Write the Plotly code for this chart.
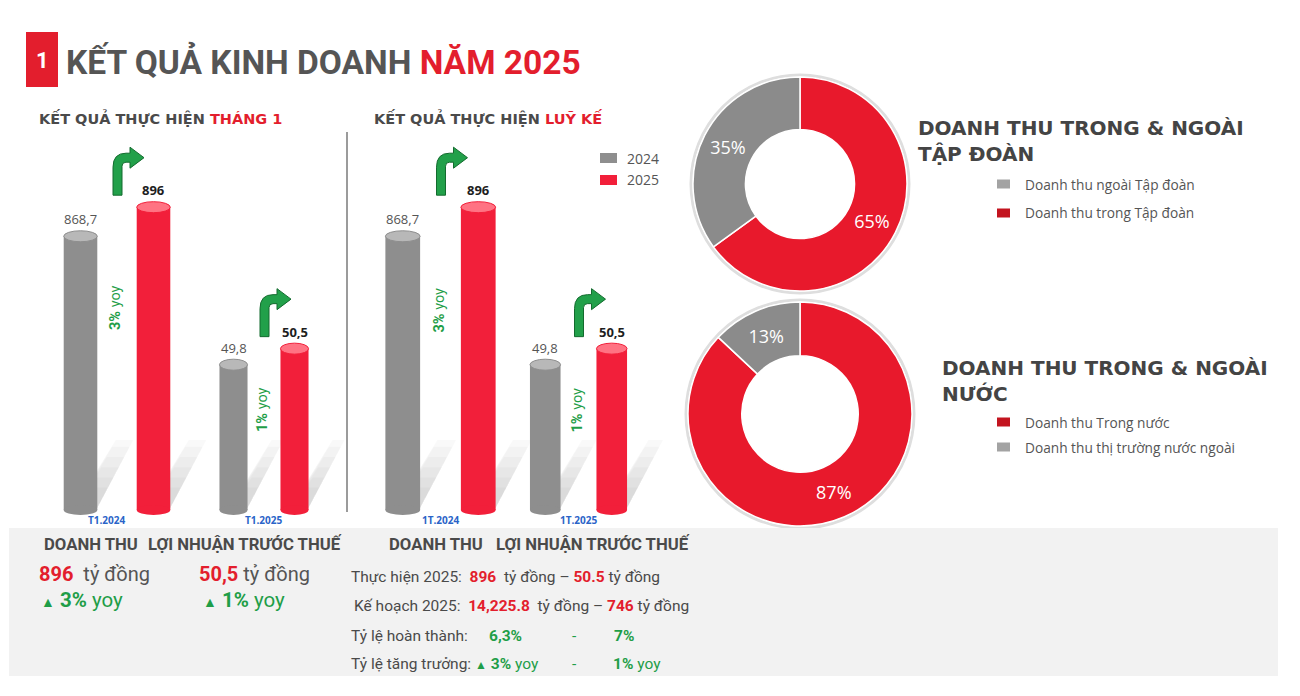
import plotly.graph_objects as go

W, H = 1300, 696

# ---------------- data ----------------
YEARS = ["2024", "2025"]
REVENUE_MONTH = [868.7, 896.0]      # tỷ đồng – tháng 1
PROFIT_MONTH = [49.8, 50.5]         # tỷ đồng – tháng 1
REVENUE_YTD = [868.7, 896.0]        # tỷ đồng – luỹ kế
PROFIT_YTD = [49.8, 50.5]           # tỷ đồng – luỹ kế
MONTH_CAT_LABELS = ["T1.2024", "T1.2025"]
YTD_CAT_LABELS = ["1T.2024", "1T.2025"]
PLAN_REVENUE_2025 = 14225.8
PLAN_PROFIT_2025 = 746

GROUP_LABELS = ["Doanh thu ngoài Tập đoàn", "Doanh thu trong Tập đoàn"]
GROUP_SHARES = [35, 65]
MARKET_LABELS = ["Doanh thu Trong nước", "Doanh thu thị trường nước ngoài"]
MARKET_SHARES = [87, 13]

# ---------------- style ----------------
REV_RANGE = [611.6, 968.5]
PROFIT_RANGE = [43.46, 60.04]
BAR_COLORS = {"2024": "#8e8e8e", "2025": "#f21f3a"}
CAP_COLORS = {"2024": "#b8b8b8", "2025": "#ff7383"}
PIE_RED = "#e8192c"
PIE_GRAY = "#8b8b8b"
LEG_RED = "#c3141f"
LEG_GRAY = "#a3a3a3"
RED = "#e31e2d"
GREEN = "#1f9e48"
DARK = "#4a4a4a"
HEAD = "Roboto"
WIDE = "DejaVu Sans"
BODY = "Open Sans"
Y_BOT, Y_TOP = 510, 130
BAR_W = 0.46


def px(x):
    return x / W


def py(y):
    return 1 - y / H


def vn(v):
    if float(v).is_integer():
        return f"{int(v)}"
    return f"{v:.1f}".replace(".", ",")


fig = go.Figure()
shapes = []
ann = []


def txt(x, y, text, size, color=DARK, xanchor="left", yanchor="middle",
        family=HEAD, xref="paper", yref="paper", **kw):
    ann.append(dict(x=x, y=y, xref=xref, yref=yref, text=text, showarrow=False,
                    xanchor=xanchor, yanchor=yanchor,
                    font=dict(size=size, color=color, family=family), **kw))


def arrow(x0, y0):
    path = f"M {px(x0)},{py(y0)} L {px(x0)},{py(y0 - 28)} "
    path += f"Q {px(x0)},{py(y0 - 42)} {px(x0 + 13)},{py(y0 - 42)} "
    for (a, b) in [(17, 42), (17, 48), (31, 37.5), (17, 27), (17, 33), (13, 33)]:
        path += f"L {px(x0 + a)},{py(y0 - b)} "
    path += f"Q {px(x0 + 9)},{py(y0 - 33)} {px(x0 + 9)},{py(y0 - 29)} "
    path += f"L {px(x0 + 9)},{py(y0)} Z"
    shapes.append(dict(type="path", xref="paper", yref="paper", path=path,
                       fillcolor="#22a04a", line=dict(color="#136b2e", width=1),
                       layer="above"))


panels = [
    (REVENUE_MONTH, REV_RANGE, (44, 190), MONTH_CAT_LABELS[0], -10, 308),
    (PROFIT_MONTH, PROFIT_RANGE, (203, 325), MONTH_CAT_LABELS[1], 0, 410),
    (REVENUE_YTD, REV_RANGE, (365, 516), YTD_CAT_LABELS[0], 0, 310),
    (PROFIT_YTD, PROFIT_RANGE, (512, 645), YTD_CAT_LABELS[1], 0, 410),
]

layout_axes = {}
for k, (vals, rng, dom, cat, cshift, yoy_y) in enumerate(panels, start=1):
    xa = "x" if k == 1 else f"x{k}"
    ya = "y" if k == 1 else f"y{k}"
    layout_axes["xaxis" if k == 1 else f"xaxis{k}"] = dict(
        domain=[px(dom[0]), px(dom[1])], range=[-0.5, 1.5], visible=False,
        anchor=ya, fixedrange=True)
    layout_axes["yaxis" if k == 1 else f"yaxis{k}"] = dict(
        domain=[py(Y_BOT), py(Y_TOP)], range=rng, visible=False,
        anchor=xa, fixedrange=True)
    ppu = (Y_BOT - Y_TOP) / (rng[1] - rng[0])
    xppu = (dom[1] - dom[0]) / 2.0
    dy = 5.5 / ppu

    def xpx(j):
        return dom[0] + (j + 0.5) * xppu

    def ypx(v):
        return Y_BOT - (v - rng[0]) * ppu

    for j, year in enumerate(YEARS):
        v = vals[j]
        fig.add_trace(go.Bar(
            x=[j], y=[v], width=BAR_W, xaxis=xa, yaxis=ya, name=year,
            marker=dict(color=BAR_COLORS[year], line=dict(width=0)),
            showlegend=False, hovertemplate=f"{year}: %{{y}}<extra></extra>"))
        # soft cast shadow (tapering streak up-right)
        xl = xpx(j) - BAR_W / 2 * xppu
        xr = xpx(j) + BAR_W / 2 * xppu
        for f in (0.3, 0.45, 0.6, 0.75, 0.9, 1.0):
            sdx, sdy = 36 * f, 68 * f
            sp = (f"M {px(xl + 10)},{py(Y_BOT - 2)} L {px(xr)},{py(Y_BOT - 2)} "
                  f"L {px(xr + sdx)},{py(Y_BOT - 2 - sdy)} "
                  f"L {px(xl + 16 + sdx)},{py(Y_BOT - 2 - sdy)} Z")
            shapes.append(dict(type="path", xref="paper", yref="paper", path=sp,
                               fillcolor="rgba(0,0,0,0.022)", line=dict(width=0),
                               layer="below"))
        # bottom cap
        shapes.append(dict(type="circle", xref=xa, yref="paper",
                           x0=j - BAR_W / 2, x1=j + BAR_W / 2,
                           y0=py(Y_BOT + 5), y1=py(Y_BOT - 5),
                           fillcolor=BAR_COLORS[year], line=dict(width=0),
                           layer="above"))
        # top cap
        shapes.append(dict(type="circle", xref=xa, yref=ya,
                           x0=j - BAR_W / 2, x1=j + BAR_W / 2,
                           y0=v - dy, y1=v + dy, fillcolor=CAP_COLORS[year],
                           line=dict(color=BAR_COLORS[year], width=1),
                           layer="above"))
        # value label
        if j == 0:
            lab = vn(v)
            col = "#555555"
        else:
            lab = f"<b>{vn(v)}</b>"
            col = "#1e1e1e"
        txt(j, v, lab, 13, col, xanchor="center", yanchor="bottom",
            family=BODY, xref=xa, yref=ya, yshift=6)
    # category label
    txt(0.5, py(520), f"<b>{cat}</b>", 10, "#2a64c8", xanchor="center",
        family=BODY, xref=xa, xshift=cshift)
    # yoy rotated
    yoy = round((vals[1] / vals[0] - 1) * 100)
    txt(0.5, py(yoy_y), f"<b>{yoy}%</b> yoy", 14.5, GREEN, xanchor="center",
        family=HEAD, xref=xa, textangle=-90, xshift=-2)
    # growth arrow
    arrow(xpx(0.5) - 4, ypx(vals[1]) - 12)

# ---------------- header ----------------
shapes.append(dict(type="rect", xref="paper", yref="paper", x0=px(26), x1=px(58),
                   y0=py(87), y1=py(32), fillcolor=RED, line=dict(width=0)))
txt(px(42), py(60), "<b>1</b>", 22, "white", xanchor="center")
txt(px(64), py(62), "<b>KẾT QUẢ KINH DOANH <span style='color:#e31e2d'>NĂM 2025</span></b>",
    33.5, "#555555")
txt(px(37), py(118), "<b>KẾT QUẢ THỰC HIỆN <span style='color:#e31e2d'>THÁNG 1</span></b>",
    14.5, DARK, family=WIDE)
txt(px(372), py(118), "<b>KẾT QUẢ THỰC HIỆN <span style='color:#e31e2d'>LUỸ KẾ</span></b>",
    14.5, DARK, family=WIDE)
shapes.append(dict(type="line", xref="paper", yref="paper", x0=px(347), x1=px(347),
                   y0=py(512), y1=py(132), line=dict(color="#7a7a7a", width=1.5)))

# bar legend
for i, year in enumerate(YEARS):
    yc = 158 + 22 * i
    shapes.append(dict(type="rect", xref="paper", yref="paper", x0=px(600), x1=px(617),
                       y0=py(yc + 5), y1=py(yc - 5), fillcolor=BAR_COLORS[year],
                       line=dict(width=0)))
    txt(px(625), py(yc), year, 14, "#555555", family=BODY)

# ---------------- donuts ----------------
order_group = [1, 0]      # clockwise from 12 o'clock: red first, grey last
order_market = [0, 1]
pie_specs = [
    ([GROUP_LABELS[i] for i in order_group], [GROUP_SHARES[i] for i in order_group],
     [PIE_RED, PIE_GRAY], (800, 184, 107), 0.51),
    ([MARKET_LABELS[i] for i in order_market], [MARKET_SHARES[i] for i in order_market],
     [PIE_RED, PIE_GRAY], (800, 414, 112), 0.52),
]
for labels, shares, colors, (cx, cy, r), hole in pie_specs:
    shapes.append(dict(type="circle", xref="paper", yref="paper",
                       x0=px(cx - r - 2), x1=px(cx + r + 2),
                       y0=py(cy + r + 2), y1=py(cy - r - 2),
                       fillcolor="rgba(0,0,0,0)", line=dict(color="#dedede", width=3),
                       layer="below"))
    fig.add_trace(go.Pie(
        labels=labels, values=shares, hole=hole, sort=False, direction="clockwise",
        rotation=0, marker=dict(colors=colors, line=dict(color="white", width=1.5)),
        texttemplate="%{percent:.0%}", textposition="inside",
        insidetextorientation="horizontal",
        textfont=dict(color="white", size=18, family=BODY),
        domain=dict(x=[px(cx - r), px(cx + r)], y=[py(cy + r), py(cy - r)]),
        showlegend=False, hovertemplate="%{label}: %{value}%<extra></extra>"))

txt(px(916), py(128), "<b>DOANH THU TRONG & NGOÀI</b>", 20, "#444444", family=WIDE)
txt(px(916), py(154), "<b>TẬP ĐOÀN</b>", 20, "#444444", family=WIDE)
txt(px(940), py(368), "<b>DOANH THU TRONG & NGOÀI</b>", 20, "#444444", family=WIDE)
txt(px(940), py(394), "<b>NƯỚC</b>", 20, "#444444", family=WIDE)

legend_specs = [
    (GROUP_LABELS, [LEG_GRAY, LEG_RED], 184, 29),
    (MARKET_LABELS, [LEG_RED, LEG_GRAY], 422, 25),
]
for labels, cols, y0, step in legend_specs:
    for i, (lab, col) in enumerate(zip(labels, cols)):
        yc = y0 + step * i
        shapes.append(dict(type="rect", xref="paper", yref="paper", x0=px(997),
                           x1=px(1010), y0=py(yc + 4.5), y1=py(yc - 4.5),
                           fillcolor=col, line=dict(width=0)))
        txt(px(1023), py(yc), lab, 13.7, "#555555", family=BODY)

# ---------------- bottom panel ----------------
shapes.append(dict(type="rect", xref="paper", yref="paper", x0=px(9), x1=px(1278),
                   y0=py(676), y1=py(528), fillcolor="#f2f2f2", line=dict(width=0),
                   layer="below"))


def red(s):
    return f"<b><span style='color:{RED}'>{s}</span></b>"


yoy_rev = round((REVENUE_YTD[1] / REVENUE_YTD[0] - 1) * 100)
yoy_pro = round((PROFIT_YTD[1] / PROFIT_YTD[0] - 1) * 100)

txt(px(42), py(544), "<b>DOANH THU</b>", 16.7, DARK)
txt(px(146), py(544), "<b>LỢI NHUẬN TRƯỚC THUẾ</b>", 16.7, DARK)
txt(px(387), py(544), "<b>DOANH THU</b>", 16.7, DARK)
txt(px(494), py(544), "<b>LỢI NHUẬN TRƯỚC THUẾ</b>", 16.7, DARK)

txt(px(37), py(574), f"{red(vn(REVENUE_MONTH[1]))}  tỷ đồng", 20, "#555555")
txt(px(197), py(574), f"{red(vn(PROFIT_MONTH[1]))} tỷ đồng", 20, "#555555")
txt(px(39), py(600), f"<span style='font-size:14px'>▲</span> <b>{yoy_rev}%</b> yoy", 20.5, GREEN)
txt(px(201), py(600), f"<span style='font-size:14px'>▲</span> <b>{yoy_pro}%</b> yoy", 20.5, GREEN)

txt(px(349), py(577),
    f"Thực hiện 2025:  {red(vn(REVENUE_YTD[1]))}  tỷ đồng – {red(f'{PROFIT_YTD[1]:.1f}')} tỷ đồng",
    15.5, DARK)
txt(px(352), py(606),
    f"Kế hoạch 2025:  {red(f'{PLAN_REVENUE_2025:,.1f}')}  tỷ đồng – {red(vn(PLAN_PROFIT_2025))} tỷ đồng",
    15.5, DARK)
rate_rev = REVENUE_YTD[1] / PLAN_REVENUE_2025 * 100
rate_pro = PROFIT_YTD[1] / PLAN_PROFIT_2025 * 100
txt(px(349), py(636), "Tỷ lệ hoàn thành:", 15.5, DARK)
txt(px(487), py(636), f"<b>{rate_rev:.1f}%</b>".replace(".", ","), 15.5, GREEN)
txt(px(574), py(636), "-", 15.5, GREEN, xanchor="center")
txt(px(612), py(636), f"<b>{rate_pro:.0f}%</b>", 15.5, GREEN)
txt(px(349), py(664), "Tỷ lệ tăng trưởng:", 15.5, DARK)
txt(px(473), py(664), f"<span style='font-size:12px'>▲</span> <b>{yoy_rev}%</b> yoy", 15.5, GREEN)
txt(px(574), py(664), "-", 15.5, GREEN, xanchor="center")
txt(px(611), py(664), f"<b>{yoy_pro}%</b> yoy", 15.5, GREEN)

fig.update_layout(
    width=W, height=H, margin=dict(l=0, r=0, t=0, b=0),
    paper_bgcolor="white", plot_bgcolor="rgba(0,0,0,0)",
    barmode="overlay", showlegend=False,
    shapes=shapes, annotations=ann, **layout_axes)

fig.write_html("out.html", config={"displayModeBar": False},
               post_script="document.body.style.margin='0';document.body.style.overflow='hidden';")
